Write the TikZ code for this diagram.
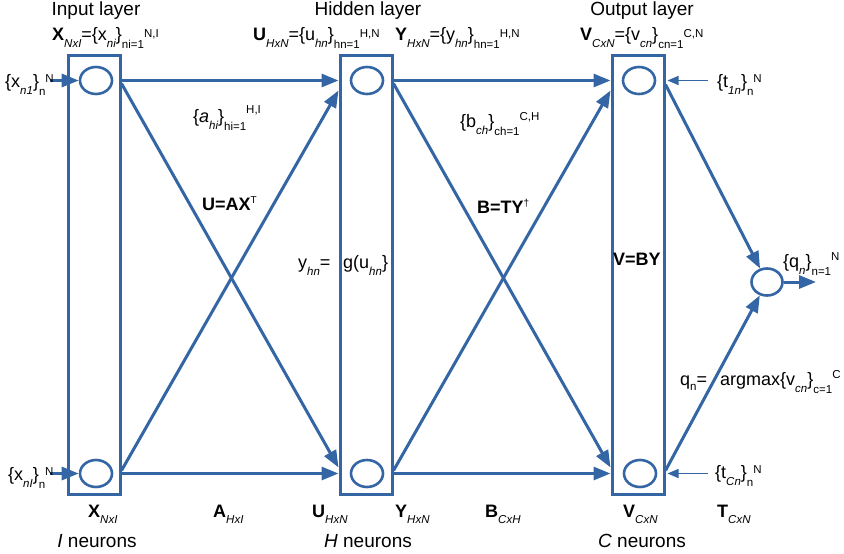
\documentclass[tikz,border=0pt]{standalone}
\usepackage{fontspec}
\setmainfont{Liberation Sans}
\usetikzlibrary{arrows.meta,shapes.geometric,calc}
\definecolor{lblue}{HTML}{3465A4}
\newcommand\Dsub[2][7]{\raisebox{-#1pt}{\fontsize{11.5}{12}\selectfont #2}}
\newcommand\Dsup[2][3]{\raisebox{#1pt}{\fontsize{11.5}{12}\selectfont #2}}
\tikzset{
  layerbox/.style={draw=lblue, line width=3pt, rectangle, inner sep=0pt, minimum width=52pt, minimum height=439pt},
  neuron/.style={draw=lblue, line width=2.6pt, ellipse, inner sep=0pt, minimum width=32pt, minimum height=27pt},
  conn/.style={draw=lblue, line width=3pt, -{Triangle[length=17pt,width=13pt]}},
  thinconn/.style={draw=lblue, line width=1.4pt, -{Triangle[length=11pt,width=9pt]}},
  lbl/.style={anchor=base west, inner sep=0pt, font=\fontsize{18}{20}\selectfont},
  ttl/.style={anchor=base, inner sep=0pt, font=\fontsize{19}{21}\selectfont},
}
\begin{document}
\begin{tikzpicture}[x=1pt,y=-1pt]
\useasboundingbox (0,0) rectangle (844,554);
% layer boxes
\node[layerbox] (inbox) at (94,274.5) {};
\node[layerbox] (hbox) at (366,274.5) {};
\node[layerbox] (obox) at (638,274.5) {};
% neurons
\node[neuron] (i1) at (96,80.5) {};
\node[neuron] (iI) at (96,473.5) {};
\node[neuron] (h1) at (367,80.5) {};
\node[neuron] (hH) at (367,473.5) {};
\node[neuron] (o1) at (639,80.5) {};
\node[neuron] (oC) at (640,473.5) {};
\node[neuron, minimum width=31pt] (q) at (767,282) {};
% free ends
\coordinate (x1s) at (50,80.5);
\coordinate (xIs) at (50,473.5);
\coordinate (t1s) at (708,80.5);
\coordinate (tCs) at (708,473.5);
\coordinate (qout) at (816,282);
% input -> hidden
\draw[conn] (i1 -| inbox.east) -- (h1 -| hbox.west);
\draw[conn] (iI -| inbox.east) -- (hH -| hbox.west);
\draw[conn] ([yshift=-3pt]i1 -| inbox.east) -- ([yshift=6pt]hH -| hbox.west);
\draw[conn] ([yshift=3pt]iI -| inbox.east) -- ([yshift=-10pt]h1 -| hbox.west);
% hidden -> output
\draw[conn] (h1 -| hbox.east) -- (o1 -| obox.west);
\draw[conn] (hH -| hbox.east) -- (oC -| obox.west);
\draw[conn] ([yshift=-3pt]h1 -| hbox.east) -- ([yshift=6pt]oC -| obox.west);
\draw[conn] ([yshift=3pt]hH -| hbox.east) -- ([yshift=-10pt]o1 -| obox.west);
% output -> q
\draw[conn] ([yshift=-4pt]o1 -| obox.east) -- (q);
\draw[conn] ([yshift=3pt]oC -| obox.east) -- (q);
\draw[conn] (q) -- (qout);
% inputs and targets
\draw[conn] (x1s) -- (i1);
\draw[conn] (xIs) -- (iI);
\draw[thinconn] (t1s) -- ([xshift=2pt]o1 -| obox.east);
\draw[thinconn] (tCs) -- ([xshift=2pt]oC -| obox.east);
% titles
\node[ttl] (tin) at (96,16) {Input layer};
\node[ttl] (thid) at (368,16) {Hidden layer};
\node[ttl] (tout) at (642,16) {Output layer};
% top labels
\node[lbl] (lx) at (52,40) {\textbf{X}\Dsub{\itshape NxI}=\{x\Dsub{\itshape ni}\}\Dsub[8]{ni=1}\Dsup{N,I}};
\node[lbl] (lu) at (253,40) {\textbf{U}\Dsub{\itshape HxN}=\{u\Dsub{\itshape hn}\}\Dsub[8]{hn=1}\Dsup{H,N}};
\node[lbl] (ly) at (395,40) {\textbf{Y}\Dsub{\itshape HxN}=\{y\Dsub{\itshape hn}\}\Dsub[8]{hn=1}\Dsup{H,N}};
\node[lbl] (lv) at (580,40) {\textbf{V}\Dsub{\itshape CxN}=\{v\Dsub{\itshape cn}\}\Dsub[8]{cn=1}\Dsup{C,N}};
% side labels
\node[lbl] (lx1) at (5,87) {\{x\Dsub{\itshape n1}\}\Dsub[8]{n}\Dsup[5]{N}};
\node[lbl] (lxI) at (8,480) {\{x\Dsub{\itshape nI}\}\Dsub[8]{n}\Dsup[5]{N}};
\node[lbl] (lt1) at (717,87) {\{t\Dsub{\itshape 1n}\}\Dsub[8]{n}\Dsup[5]{N}};
\node[lbl] (ltC) at (715,478) {\{t\Dsub{\itshape Cn}\}\Dsub[8]{n}\Dsup[5]{N}};
% middle labels
\node[lbl] (la) at (193,122) {\{\textit{a}\Dsub{\itshape hi}\}\Dsub[8]{hi=1}\Dsup[9]{H,I}};
\node[lbl] (lua) at (202,210) {\textbf{U=AX}\raisebox{7pt}{\fontsize{10}{11}\selectfont T}};
\node[lbl] (lb) at (460,127) {\{b\Dsub{\itshape ch}\}\Dsub[8]{ch=1}\Dsup[7]{C,H}};
\node[lbl] (lbt) at (477,213) {\textbf{B=TY}\raisebox{7pt}{\fontsize{10}{11}\selectfont †}};
\node[lbl] (lyh) at (298,268) {y\Dsub{\itshape hn}=};
\node[lbl] (lg) at (343,268) {g(u\Dsub{\itshape hn}\}};
\node[lbl] (lvb) at (613,265) {\textbf{V=BY}};
\node[lbl] (lq) at (783,267) {\{q\Dsub{\itshape n}\}\Dsub[8]{n=1}\Dsup[7]{N}};
\node[lbl] (lqn) at (680,385) {q\Dsub[5]{n}=};
\node[lbl] (larg) at (720,385) {argmax\{v\Dsub{\itshape cn}\}\Dsub[8]{c=1}\Dsup[7]{C}};
% bottom labels
\node[lbl] (bx) at (88,517) {\textbf{X}\Dsub[6]{\itshape NxI}};
\node[lbl] (ba) at (213,517) {\textbf{A}\Dsub[6]{\itshape HxI}};
\node[lbl] (bu) at (312,517) {\textbf{U}\Dsub[6]{\itshape HxN}};
\node[lbl] (by) at (395,517) {\textbf{Y}\Dsub[6]{\itshape HxN}};
\node[lbl] (bb) at (485,517) {\textbf{B}\Dsub[6]{\itshape CxH}};
\node[lbl] (bv) at (623,517) {\textbf{V}\Dsub[6]{\itshape CxN}};
\node[lbl] (bt) at (717,517) {\textbf{T}\Dsub[6]{\itshape CxN}};
% neuron counts
\node[ttl] (ni) at (97,547) {\textit{I} neurons};
\node[ttl] (nh) at (368,547) {\textit{H} neurons};
\node[ttl] (nc) at (642,547) {\textit{C} neurons};
\end{tikzpicture}
\end{document}
